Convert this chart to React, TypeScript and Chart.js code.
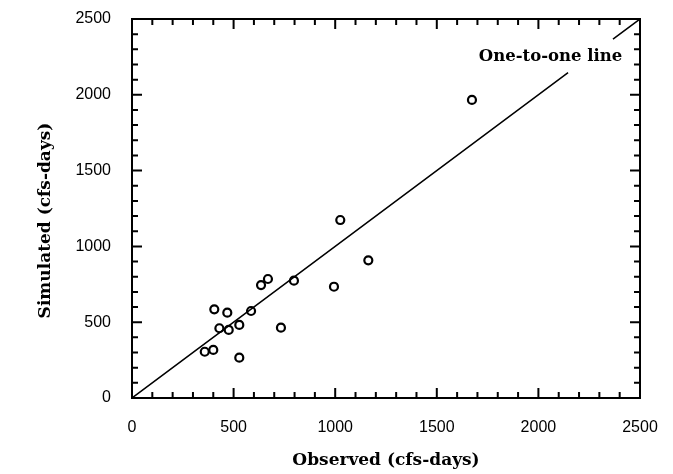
import React, { useEffect, useRef } from "react";
import { Chart, registerables } from "chart.js";

Chart.register(...registerables);

// Observed vs simulated values (cfs-days)
const observed = [1673, 1025, 1163, 994, 797, 669, 635, 586, 405, 469, 430, 476, 528, 733, 358, 400, 528];
const simulated = [1966, 1174, 908, 734, 774, 785, 745, 574, 585, 563, 460, 449, 482, 464, 305, 317, 266];

// One-to-one line (gap left for its label)
const lineX = [0, 2146, 2258, 2367, 2500];
const lineY: (number | null)[] = [0, 2146, null, 2367, 2500];

const axisMin = 0;
const axisMax = 2500;
const majorStep = 500;
const minorStep = 100;

const lineLabel = "One-to-one line";
const lineLabelPos = { x: 2060, y: 2250 };

const xTitle = "Observed (cfs-days)";
const yTitle = "Simulated (cfs-days)";

const SERIF = "'DejaVu Serif', 'Liberation Serif', serif";
const SANS = "'Liberation Sans', Arial, sans-serif";

const framePlugin = {
  id: "frameTicks",
  afterDatasetsDraw(chart: any) {
    const { ctx, chartArea } = chart;
    const xs = chart.scales.x;
    const ys = chart.scales.y;
    const { left, right, top, bottom } = chartArea;
    ctx.save();
    ctx.strokeStyle = "#000";
    ctx.lineWidth = 2;
    ctx.strokeRect(left, top, right - left, bottom - top);
    for (let v = axisMin; v <= axisMax; v += minorStep) {
      const major = v % majorStep === 0;
      const len = major ? 10 : 6;
      const px = xs.getPixelForValue(v);
      const py = ys.getPixelForValue(v);
      ctx.beginPath();
      ctx.moveTo(px, bottom);
      ctx.lineTo(px, bottom - len);
      ctx.moveTo(px, top);
      ctx.lineTo(px, top + len);
      ctx.moveTo(left, py);
      ctx.lineTo(left + len, py);
      ctx.moveTo(right, py);
      ctx.lineTo(right - len, py);
      ctx.stroke();
    }
    ctx.fillStyle = "#000";
    // label for the line
    ctx.font = `bold 16.5px ${SERIF}`;
    ctx.textAlign = "center";
    ctx.textBaseline = "middle";
    ctx.fillText(lineLabel, xs.getPixelForValue(lineLabelPos.x), ys.getPixelForValue(lineLabelPos.y));
    // y-axis title
    ctx.font = `bold 17px ${SERIF}`;
    ctx.translate(46, (top + bottom) / 2 + 12);
    ctx.rotate(-Math.PI / 2);
    ctx.fillText(yTitle, 0, 0);
    ctx.restore();
  },
};

const hiddenGrid = {
  display: true,
  drawOnChartArea: false,
  drawTicks: true,
  tickLength: 20,
  color: "rgba(0,0,0,0)",
};

export default function App() {
  const ref = useRef<HTMLCanvasElement>(null);
  useEffect(() => {
    if (!ref.current) return;
    const chart = new Chart(ref.current, {
      type: "scatter",
      data: {
        datasets: [
          {
            type: "line",
            label: "line",
            data: lineX.map((x, i) => ({ x, y: lineY[i] })) as any,
            borderColor: "#000",
            borderWidth: 1.5,
            pointRadius: 0,
            spanGaps: false,
            fill: false,
          } as any,
          {
            label: "points",
            data: observed.map((x, i) => ({ x, y: simulated[i] })),
            pointStyle: "circle",
            pointRadius: 4,
            borderWidth: 2.2,
            borderColor: "#000",
            backgroundColor: "rgba(255,255,255,0)",
          },
        ],
      },
      options: {
        animation: false,
        responsive: false,
        layout: { autoPadding: false, padding: { top: 19, right: 33, left: 0, bottom: 0 } },
        plugins: { legend: { display: false }, tooltip: { enabled: false } },
        scales: {
          x: {
            type: "linear",
            min: axisMin,
            max: axisMax,
            grid: { ...hiddenGrid, tickLength: 20 },
            border: { display: false },
            ticks: { stepSize: majorStep, color: "#000", font: { family: SANS, size: 16 }, padding: 0, maxRotation: 0, callback: (v: any) => String(v) },
            title: { display: true, text: xTitle, color: "#000", font: { family: SERIF, size: 17, weight: "bold" }, padding: { top: 0, bottom: 3 } },
            afterFit: (s: any) => { s.height = 76; },
          },
          y: {
            type: "linear",
            min: axisMin,
            max: axisMax,
            grid: { ...hiddenGrid, tickLength: 21 },
            border: { display: false },
            ticks: { stepSize: majorStep, color: "#000", font: { family: SANS, size: 16 }, padding: 0, callback: (v: any) => String(v) },
            title: { display: false },
            afterFit: (s: any) => { s.width = 132; },
          },
        },
      },
      plugins: [framePlugin],
    });
    return () => chart.destroy();
  }, []);
  return (
    <div style={{ position: "fixed", left: 0, top: 0, width: 673, height: 474, background: "#fff" }}>
      <canvas ref={ref} width={673} height={474} style={{ width: 673, height: 474 }} />
    </div>
  );
}
